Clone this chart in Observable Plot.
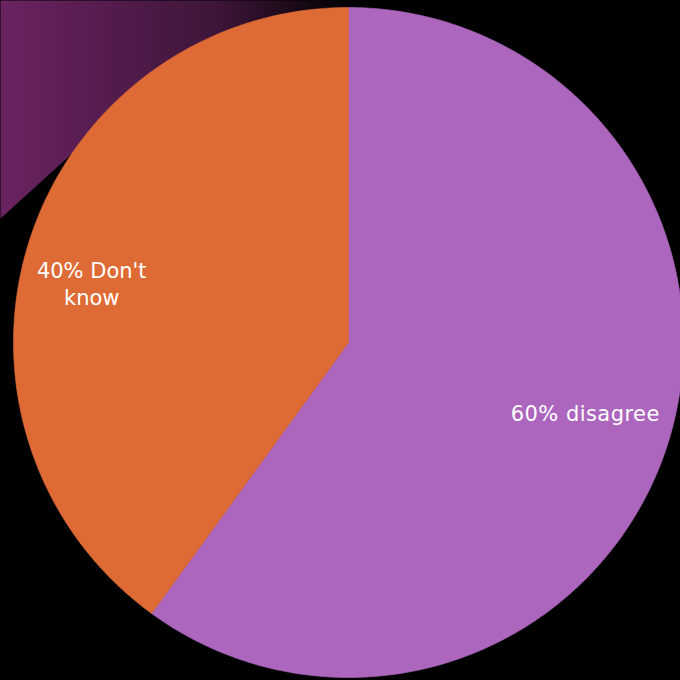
<!DOCTYPE html>
<html><head><meta charset="utf-8">
<script src="https://cdn.jsdelivr.net/npm/d3@7"></script>
<script src="https://cdn.jsdelivr.net/npm/@observablehq/plot@0.6"></script>
<style>html,body{margin:0;padding:0;background:#000;} svg{display:block;} .wide text{letter-spacing:0.45px;}</style>
</head><body><div id="chart"></div>
<script>
const categories = ["disagree", "Don't know"];
const values = [60, 40];
const labels = ["60% disagree", "40% Don't\nknow"];
const colors = ["#AD66BE", "#DE6B35"];

const total = d3.sum(values);
let acc = 0;
const slices = categories.map((c, i) => {
  const a0 = acc / total * 2 * Math.PI; acc += values[i];
  const a1 = acc / total * 2 * Math.PI;
  return {c, a0, a1, mid: (a0 + a1) / 2, label: labels[i]};
});
const pts = [];
slices.forEach(s => {
  pts.push({c: s.c, x: 0, y: 0});
  const n = 240;
  for (let k = 0; k <= n; k++) {
    const a = s.a0 + (s.a1 - s.a0) * k / n;
    pts.push({c: s.c, x: Math.sin(a), y: Math.cos(a)});
  }
  pts.push({c: s.c, x: 0, y: 0});
});
const labelR = 0.74;
const labelPts = slices.map(s => ({c: s.c, label: s.label, x: labelR * Math.sin(s.mid), y: labelR * Math.cos(s.mid)}));

// decorative corner band (pixel vertices converted to data space)
const cx = 348, cy = 342, R = 335;
const cornerPx = [[0,0],[362,0],[348,12],[150,82],[0,218]];
const corner = cornerPx.map(([px, py]) => ({x: (px - cx) / R, y: (cy - py) / R}));

const plot = Plot.plot({
  width: 680, height: 680,
  margin: 0,
  x: {domain: [-1, 1], range: [cx - R, cx + R], axis: null},
  y: {domain: [-1, 1], range: [cy + R, cy - R], axis: null},
  color: {domain: categories, range: colors},
  style: {background: "#000"},
  marks: [
    Plot.line(corner, {x: "x", y: "y", fill: "url(#cornerGrad)", stroke: "none", curve: "linear-closed"}),
    Plot.line(pts, {x: "x", y: "y", z: "c", fill: "c", stroke: "c", strokeWidth: 0.6, curve: "linear"}),
    Plot.text(labelPts.filter(d => d.c === "disagree"), {x: "x", y: "y", text: "label", fill: "white", fontSize: 21, fontFamily: "DejaVu Sans", dx: 1, dy: -5, className: "wide"}),
    Plot.text(labelPts.filter(d => d.c === "Don't know"), {x: "x", y: "y", text: "label", fill: "white", fontSize: 21, fontFamily: "DejaVu Sans", lineHeight: 1.3, dx: -21, dy: 17})
  ]
});
const ns = "http://www.w3.org/2000/svg";
const defs = document.createElementNS(ns, "defs");
defs.innerHTML = '<linearGradient id="cornerGrad" x1="0" y1="0" x2="1" y2="0"><stop offset="0" stop-color="#6b2362"/><stop offset="0.6" stop-color="#3e1538"/><stop offset="0.97" stop-color="#000"/></linearGradient>';
plot.insertBefore(defs, plot.firstChild);
document.getElementById("chart").appendChild(plot);
</script>
</body></html>
